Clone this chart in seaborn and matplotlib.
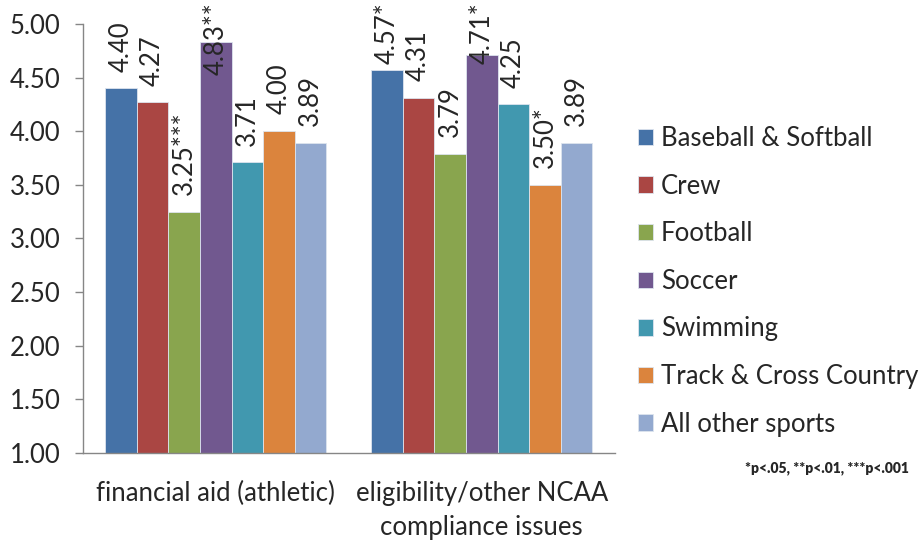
import pandas as pd
import seaborn as sns
import matplotlib.pyplot as plt

items = ["financial aid (athletic)", "eligibility/other NCAA\ncompliance issues"]
sports = ["Baseball & Softball", "Crew", "Football", "Soccer", "Swimming",
          "Track & Cross Country", "All other sports"]
financial = [4.40, 4.27, 3.25, 4.83, 3.71, 4.00, 3.89]
eligibility = [4.57, 4.31, 3.79, 4.71, 4.25, 3.50, 3.89]
financial_sig = ["", "", "***", "**", "", "", ""]
eligibility_sig = ["*", "", "", "*", "", "*", ""]
colors = ["#4572A7", "#AA4643", "#89A54E", "#71588F", "#4198AF", "#DB843D", "#93A9CF"]

rows = []
for s, v, st in zip(sports, financial, financial_sig):
    rows.append({"item": items[0], "sport": s, "score": v, "sig": st})
for s, v, st in zip(sports, eligibility, eligibility_sig):
    rows.append({"item": items[1], "sport": s, "score": v, "sig": st})
df = pd.DataFrame(rows)

sns.set_style("white")
plt.rcParams["font.family"] = ["Lato", "DejaVu Sans"]
fs = 18.5

fig = plt.figure(figsize=(9.19, 5.42), dpi=100)
ax = fig.add_axes([0.090, 0.164, 0.579, 0.792])

sns.barplot(data=df, x="item", y="score", hue="sport", palette=colors,
            width=0.83, saturation=1, edgecolor="#dde4ee", linewidth=0.6, ax=ax)

pad = 12
anns = []
for cont, sp in zip(ax.containers, sports):
    sub = df[df["sport"] == sp]
    labels = [f"{v:.2f}{st}" for v, st in zip(sub["score"], sub["sig"])]
    anns += ax.bar_label(cont, labels=labels, rotation=90, padding=pad, fontsize=fs,
                         clip_on=False)

ax.set_ylim(1, 5)
ax.set_xlim(-0.5, 1.5)
yt = [1, 1.5, 2, 2.5, 3, 3.5, 4, 4.5, 5]
ax.set_yticks(yt)
ax.set_yticklabels([f"{t:.2f}" for t in yt], fontsize=fs)
ax.set_xticks([0, 1])
ax.set_xticklabels(items, fontsize=fs, linespacing=1.45)
ax.tick_params(axis="x", length=0, pad=20)
ax.set_xticks([-0.5, 0.5, 1.5], minor=True)
ax.tick_params(axis="x", which="minor", length=6, direction="out", color="#868686", width=1)
ax.tick_params(axis="y", length=6, direction="out", color="#868686", width=1, left=True, pad=10)
ax.set_xlabel("")
ax.set_ylabel("")
for side in ["top", "right"]:
    ax.spines[side].set_visible(False)
for side in ["left", "bottom"]:
    ax.spines[side].set_color("#868686")
    ax.spines[side].set_linewidth(1)

handles, labs = ax.get_legend_handles_labels()
ax.legend_.remove()
fig.legend(handles, labs, loc="center left", bbox_to_anchor=(0.694, 0.481),
           frameon=False, fontsize=fs, labelspacing=0.88, handlelength=0.6,
           handleheight=0.6, handletextpad=0.3, borderaxespad=0, borderpad=0)

fig.text(0.90, 0.137, "*p<.05, **p<.01, ***p<.001", fontsize=10, fontweight="heavy",
         ha="center", va="center")

# keep data labels inside the figure, like the original chart does
fig.canvas.draw()
r = fig.canvas.get_renderer()
H = fig.bbox.height
for a in anns:
    bb = a.get_window_extent(r)
    over = bb.y1 - (H - 2)
    if over > 0:
        a.xyann = (0, pad - over * 72 / fig.dpi)

fig.savefig("out.png", dpi=100)
